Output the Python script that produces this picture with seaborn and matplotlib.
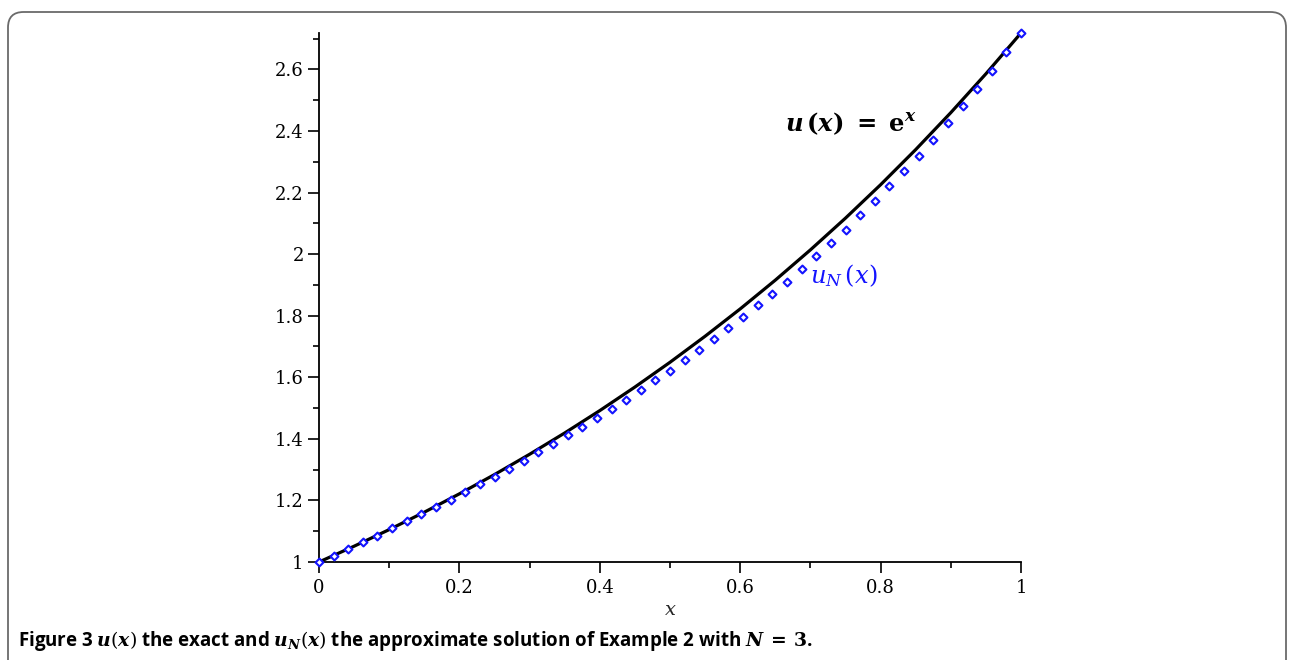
import numpy as np
import pandas as pd
import matplotlib
matplotlib.use("Agg")
import matplotlib.pyplot as plt
import seaborn as sns
from matplotlib.ticker import AutoMinorLocator, MultipleLocator, FuncFormatter
from matplotlib.patches import FancyBboxPatch

# ---- data ----
# exact solution u(x) = e^x, sampled along the black curve
x_exact = [0.00, 0.05, 0.10, 0.15, 0.20, 0.25, 0.30, 0.35, 0.40, 0.45, 0.50,
           0.55, 0.60, 0.65, 0.70, 0.75, 0.80, 0.85, 0.90, 0.95, 1.00]
u_exact = [1.0000, 1.0513, 1.1052, 1.1618, 1.2214, 1.2840, 1.3499, 1.4191,
           1.4918, 1.5683, 1.6487, 1.7333, 1.8221, 1.9155, 2.0138, 2.1170,
           2.2255, 2.3396, 2.4596, 2.5857, 2.7183]

# approximate solution u_N(x), N = 3 (blue diamonds)
x_approx = [0.0000, 0.0208, 0.0417, 0.0625, 0.0833, 0.1042, 0.1250, 0.1458,
            0.1667, 0.1875, 0.2083, 0.2292, 0.2500, 0.2708, 0.2917, 0.3125,
            0.3333, 0.3542, 0.3750, 0.3958, 0.4167, 0.4375, 0.4583, 0.4792,
            0.5000, 0.5208, 0.5417, 0.5625, 0.5833, 0.6042, 0.6250, 0.6458,
            0.6667, 0.6875, 0.7083, 0.7292, 0.7500, 0.7708, 0.7917, 0.8125,
            0.8333, 0.8542, 0.8750, 0.8958, 0.9167, 0.9375, 0.9583, 0.9792,
            1.0000]
u_approx = [1.000, 1.021, 1.042, 1.064, 1.086, 1.109, 1.132, 1.155,
            1.179, 1.203, 1.227, 1.252, 1.277, 1.303, 1.329, 1.356,
            1.383, 1.411, 1.439, 1.468, 1.497, 1.527, 1.558, 1.590,
            1.622, 1.655, 1.689, 1.724, 1.760, 1.796, 1.834, 1.872,
            1.911, 1.952, 1.994, 2.036, 2.080, 2.126, 2.172, 2.220,
            2.269, 2.320, 2.372, 2.426, 2.481, 2.538, 2.596, 2.656,
            2.718]

df_exact = pd.DataFrame({"x": x_exact, "u": u_exact})
df_approx = pd.DataFrame({"x": x_approx, "u": u_approx})

sns.set_theme(style="white")
plt.rcParams["font.family"] = ["DejaVu Serif"]
plt.rcParams["mathtext.fontset"] = "custom"
plt.rcParams["mathtext.rm"] = "DejaVu Serif"
plt.rcParams["mathtext.it"] = "DejaVu Serif:italic"
plt.rcParams["mathtext.bf"] = "DejaVu Serif:bold"
plt.rcParams["mathtext.bfit"] = "DejaVu Serif:italic:bold"

fig = plt.figure(figsize=(12.94, 6.60), dpi=100)
ax = fig.add_axes([319 / 1294, 1 - 562 / 660, (1021 - 319) / 1294, (562 - 33) / 660])

sns.lineplot(data=df_exact, x="x", y="u", ax=ax, color="black", linewidth=2.3,
             zorder=2)
sns.scatterplot(data=df_approx, x="x", y="u", ax=ax, marker="D", s=16,
                facecolor="white", edgecolor="#1414ff", linewidth=1.5,
                zorder=3, clip_on=False)

ax.set_xlim(0, 1)
ax.set_ylim(1, 2.7183)
ax.set_xlabel("$x$", fontsize=14, labelpad=3)
ax.set_ylabel("")

for s in ["top", "right"]:
    ax.spines[s].set_visible(False)
for s in ["left", "bottom"]:
    ax.spines[s].set_color("black")
    ax.spines[s].set_linewidth(1.3)

ax.xaxis.set_major_locator(MultipleLocator(0.2))
ax.yaxis.set_major_locator(MultipleLocator(0.2))
ax.xaxis.set_minor_locator(AutoMinorLocator(2))
ax.yaxis.set_minor_locator(AutoMinorLocator(2))
fmt = FuncFormatter(lambda v, p: "%g" % round(v, 4))
ax.xaxis.set_major_formatter(fmt)
ax.yaxis.set_major_formatter(fmt)
ax.tick_params(which="major", direction="out", length=8, width=1.2,
               labelsize=13, color="black", labelcolor="black", pad=3,
               left=True, bottom=True)
ax.tick_params(axis="x", which="major", pad=4)
ax.tick_params(which="minor", direction="out", length=4, width=1.2,
               color="black", left=True, bottom=True)
ax.grid(False)
ax.set_facecolor("white")

ax.text(0.664, 2.425,
        r"$\mathbfit{u}\,\mathbf{(}\mathbfit{x}\mathbf{)}\ \mathbf{=}\ \mathbf{e}^{\mathbfit{x}}$",
        fontsize=17.5, color="black", va="center", ha="left")
ax.text(0.700, 1.930, r"$u_{N}\,(x)$", fontsize=17.5, color="#1414ff",
        va="center", ha="left")

# rounded frame around the figure
frame = FancyBboxPatch((8 / 1294, -0.2), (1286 - 8) / 1294, 1.2 - 12 / 660,
                       boxstyle="round,pad=0,rounding_size=0.012",
                       transform=fig.transFigure, fill=False,
                       edgecolor="#6a6a6a", linewidth=1.3, clip_on=False,
                       mutation_aspect=1294 / 660)
fig.patches.append(frame)

fig.text(18 / 1294, 1 - 641 / 660,
         r"Figure 3 $\mathbfit{u}(\mathbfit{x})$ the exact and $\mathbfit{u}_{\mathbfit{N}}(\mathbfit{x})$ "
         r"the approximate solution of Example 2 with $\mathbfit{N}\:\mathbf{=}\:\mathbf{3}$.",
         family=["Open Sans", "DejaVu Sans"], fontweight="bold", fontsize=13.5,
         va="center", ha="left", color="black")

fig.savefig("out.png", dpi=100, facecolor="white")
